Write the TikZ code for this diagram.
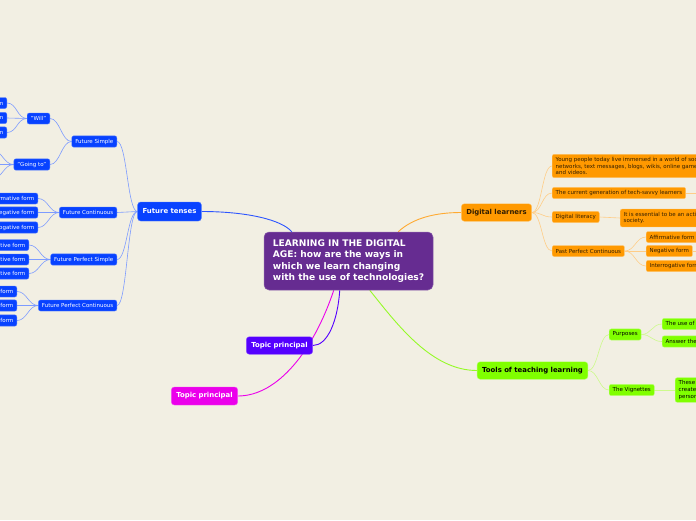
\documentclass[tikz,border=0pt]{standalone}
\usepackage{fontspec}
\setmainfont{DejaVu Sans}
\usetikzlibrary{calc}
\pgfdeclarelayer{back}
\pgfdeclarelayer{lines}
\pgfsetlayers{back,lines,main}

\definecolor{bgc}{RGB}{242,239,227}
\definecolor{cpurp}{RGB}{102,44,145}
\definecolor{cblue}{RGB}{8,66,255}
\definecolor{cblueline}{RGB}{45,85,255}
\definecolor{cbluesub}{RGB}{125,155,255}
\definecolor{corange}{RGB}{255,153,0}
\definecolor{corangeline}{RGB}{255,170,50}
\definecolor{corangesub}{RGB}{255,205,135}
\definecolor{cgreen}{RGB}{128,255,0}
\definecolor{cgreenline}{RGB}{150,250,40}
\definecolor{cgreensub}{RGB}{205,250,140}
\definecolor{cviolet}{RGB}{85,0,255}
\definecolor{cmag}{RGB}{235,0,235}
\definecolor{cdark}{RGB}{50,30,0}

\tikzset{
  box/.style={rounded corners=2pt, inner xsep=3.5pt, inner ysep=3pt, minimum height=11pt,
    font=\fontsize{5.5}{6.6}\selectfont, align=left, line width=0.4pt},
  bluebox/.style={box, fill=cblue, draw=cblue!70!white, text=white},
  orbox/.style={box, fill=corange, draw=corange!60!white, text=cdark},
  grbox/.style={box, fill=cgreen, draw=cgreen!55!white, text=black},
  topbox/.style={rounded corners=3pt, inner xsep=5pt, inner ysep=0pt, minimum height=17.5pt,
    font=\fontsize{6.9}{8}\selectfont\bfseries, line width=0.4pt},
  centralbox/.style={rounded corners=5pt, fill=cpurp, draw=cpurp!75!white, line width=0.5pt,
    text=white, font=\fontsize{9.1}{11.2}\selectfont\bfseries, align=left,
    minimum width=169pt, minimum height=58pt, inner sep=0pt},
  brk/.style={out=0, in=180, distance=10pt},
  bl/.style={cbluesub, line width=0.6pt},
  ol/.style={corangesub, line width=0.6pt},
  gl/.style={cgreensub, line width=0.6pt},
}

\begin{document}
\begin{tikzpicture}[x=1pt,y=-1pt]
\useasboundingbox (0,0) rectangle (696,520);
\begin{pgfonlayer}{back}
\fill[bgc] (0,0) rectangle (696,520);
\end{pgfonlayer}

% central
\node[centralbox] (central) at (348.5,261) {LEARNING IN THE DIGITAL\\AGE: how are the ways in\\which we learn changing\\with the use of technologies?};

% level 1
\node[topbox, fill=cblue, draw=cblue!70!white, text=white, minimum height=19pt] (ft) at (169.5,211.5) {Future tenses};
\node[topbox, fill=corange, draw=corange!60!white, text=cdark] (dl) at (496.5,212.5) {Digital learners};
\node[topbox, fill=cgreen, draw=cgreen!55!white, text=black] (tt) at (532.5,370.5) {Tools of teaching learning};
\node[topbox, fill=cviolet, draw=cviolet!70!white, text=white] (tpv) at (279.5,345.5) {Topic principal};
\node[topbox, fill=cmag, draw=cmag!70!white, text=white, minimum height=18pt] (tpm) at (204.5,396) {Topic principal};

% blue level 2
\node[bluebox, anchor=east] (fs) at (117,141.5) {Future Simple};
\node[bluebox, anchor=east] (fc) at (117,212.5) {Future Continuous};
\node[bluebox, anchor=east] (fps) at (117,259.5) {Future Perfect Simple};
\node[bluebox, anchor=east] (fpc) at (117,305.5) {Future Perfect Continuous};

% blue level 3
\node[bluebox, anchor=east] (will) at (50,118.5) {"Will"};
\node[bluebox, anchor=east] (gt) at (50,164.5) {"Going to"};

\node[bluebox, anchor=east] (w1) at (7,103) {Affirmative form};
\node[bluebox, anchor=east] (w2) at (7,118) {Negative form};
\node[bluebox, anchor=east] (w3) at (7,132.5) {Interrogative form};

\node[bluebox, anchor=east] (g1) at (-8,150) {Affirmative form};
\node[bluebox, anchor=east] (g2) at (-8,164.5) {Negative form};
\node[bluebox, anchor=east] (g3) at (-8,179) {Interrogative form};

\node[bluebox, anchor=east] (c1) at (38,198.5) {Affirmative form};
\node[bluebox, anchor=east] (c2) at (38,212.5) {Negative form};
\node[bluebox, anchor=east] (c3) at (38,227.5) {Interrogative form};

\node[bluebox, anchor=east] (p1) at (29,245) {Affirmative form};
\node[bluebox, anchor=east] (p2) at (29,259.5) {Affirmative form};
\node[bluebox, anchor=east] (p3) at (29,273.5) {Interrogative form};

\node[bluebox, anchor=east] (q1) at (17,291.5) {Affirmative form};
\node[bluebox, anchor=east] (q2) at (17,305.5) {Negative form};
\node[bluebox, anchor=east] (q3) at (17,320.5) {Interrogative form};

% orange
\node[orbox, anchor=west] (young) at (552,166) {Young people today live immersed in a world of social\\networks, text messages, blogs, wikis, online games\\and videos.};
\node[orbox, anchor=west] (cur) at (552,193) {The current generation of tech-savvy learners};
\node[orbox, anchor=west] (dlit) at (552,217) {Digital literacy};
\node[orbox, anchor=west] (ess) at (620,218) {It is essential to be an active member of the\\society.};
\node[orbox, anchor=west] (ppc) at (552,251) {Past Perfect Continuous};
\node[orbox, anchor=west] (oa) at (646,237) {Affirmative form};
\node[orbox, anchor=west] (on) at (646,251) {Negative form};
\node[orbox, anchor=west] (oi) at (646,266) {Interrogative form};
\coordinate (curEnd) at (702,193);
\coordinate (negEnd) at (702,251);

% green
\node[grbox, anchor=west] (pur) at (609,334.5) {Purposes};
\node[grbox, anchor=west] (use) at (662,324) {The use of vignettes};
\node[grbox, anchor=west] (ans) at (662,341.5) {Answer the questions};
\node[grbox, anchor=west] (vig) at (609,390) {The Vignettes};
\node[grbox, anchor=west] (these) at (675,390) {These short texts\\created for\\personal use};

\begin{pgfonlayer}{lines}
% level 1 connectors
\draw[cblueline, line width=0.9pt] ($(central.north west)+(28,0)$) .. controls +(-10,-12) and +(45,0) .. (ft.east);
\draw[corangeline, line width=0.9pt] ($(central.north east)+(-35,0)$) .. controls +(15,-14) and +(-25,0) .. (dl.west);
\draw[cgreenline, line width=0.9pt] ($(central.south west)+(106,0)$) .. controls +(28,35) and +(-45,0) .. (tt.west);
\draw[cviolet, line width=0.9pt] ($(central.south west)+(76,0)$) .. controls +(-2,30) and +(15,0) .. (tpv.east);
\draw[cmag, line width=0.9pt] ($(central.south west)+(70,0)$) .. controls +(-20,60) and +(40,0) .. (tpm.east);

% blue sub connectors
\foreach \c in {fs,fc,fps,fpc} \draw[bl] (\c.east) to[brk] (ft.west);
\foreach \c in {will,gt} \draw[bl] (\c.east) to[brk] (fs.west);
\foreach \c in {w1,w2,w3} \draw[bl] (\c.east) to[brk] (will.west);
\foreach \c in {g1,g2,g3} \draw[bl] (\c.east) to[brk] (gt.west);
\foreach \c in {c1,c2,c3} \draw[bl] (\c.east) to[brk] (fc.west);
\foreach \c in {p1,p2,p3} \draw[bl] (\c.east) to[brk] (fps.west);
\foreach \c in {q1,q2,q3} \draw[bl] (\c.east) to[brk] (fpc.west);

% orange sub connectors
\foreach \c in {young,cur,dlit,ppc} \draw[ol] (dl.east) to[brk] (\c.west);
\draw[ol] (dlit.east) to[brk] (ess.west);
\foreach \c in {oa,on,oi} \draw[ol] (ppc.east) to[brk] (\c.west);
\draw[ol] (cur.east) -- (curEnd);
\draw[ol] (on.east) -- (negEnd);

% green sub connectors
\foreach \c in {pur,vig} \draw[gl] (tt.east) to[brk] (\c.west);
\foreach \c in {use,ans} \draw[gl] (pur.east) to[brk] (\c.west);
\draw[gl] (vig.east) to[brk] (these.west);
\end{pgfonlayer}
\end{tikzpicture}
\end{document}
